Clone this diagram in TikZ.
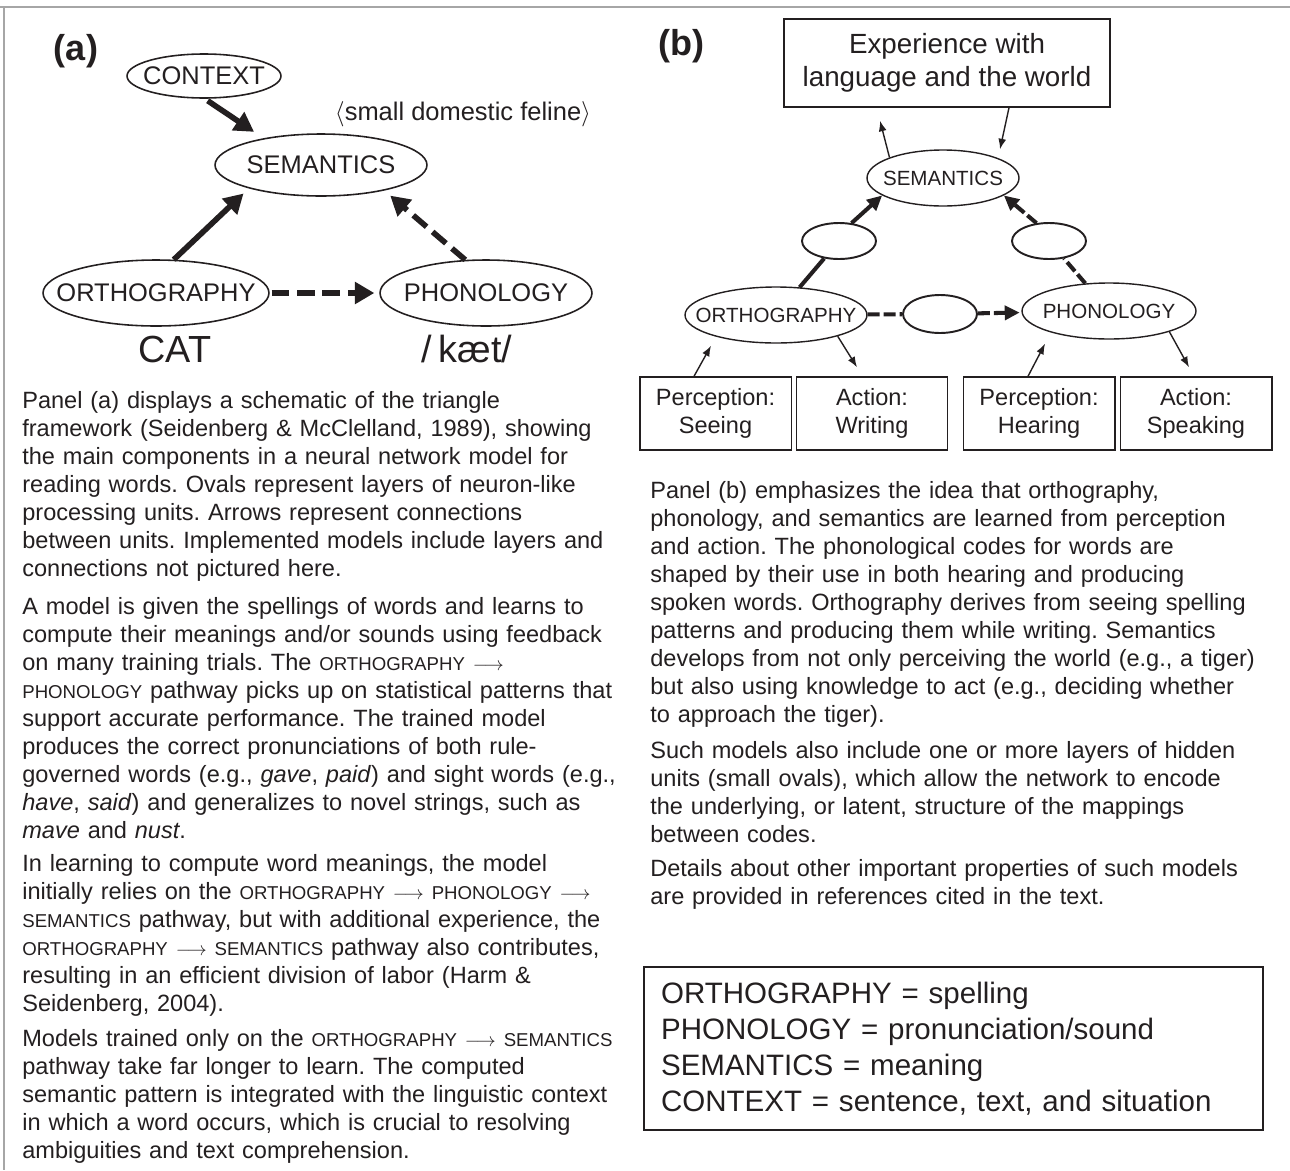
\documentclass[tikz,border=0pt]{standalone}
\usepackage{fontspec}
\setmainfont{Liberation Sans}
\usepackage{amsmath}
\usepackage{xcolor}
\usetikzlibrary{shapes.geometric, positioning, arrows.meta, calc}

\definecolor{ink}{HTML}{231F20}
\newcommand{\capsm}[1]{{\fontsize{10.6}{16}\selectfont #1}}
\newcommand{\pathto}{$\longrightarrow$}
\frenchspacing

\begin{document}
\begin{tikzpicture}[
        x=0.02cm, y=-0.02cm,
        color=ink,
        body/.style={anchor=base west, text width=12.6cm, align=left, inner sep=0pt,
            font=\fontsize{13.4}{16}\selectfont},
        lbla/.style={font=\fontsize{14.5}{17}\selectfont},
        lblb/.style={font=\fontsize{11.7}{14}\selectfont},
        ovala/.style={ellipse, draw, line width=0.9pt, inner sep=0pt, label={[lbla]center:#1}},
        ovalb/.style={ellipse, draw, line width=0.8pt, inner sep=0pt, label={[lblb]center:#1}},
        hidden/.style={ellipse, draw, line width=1.1pt, minimum width=1.48cm, minimum height=0.72cm},
        boxb/.style={draw, line width=0.85pt, minimum width=3.03cm, minimum height=1.46cm,
            align=center, font=\fontsize{13.4}{16}\selectfont},
        fata/.style={line width=3.2pt, -{Triangle[length=11pt,width=12pt]}},
        dasha/.style={dash pattern=on 10pt off 4.5pt},
        fatb/.style={line width=2.3pt},
        tipb/.style={-{Triangle[length=8.5pt,width=8pt]}},
        dashb/.style={dash pattern=on 6.8pt off 2.3pt},
        slimarr/.style={line width=0.8pt, -{Latex[length=6pt,width=4.5pt]}}
    ]
        \useasboundingbox (0,0) rectangle (1290,1170);

        % frame
        \draw[gray!70, line width=1.2pt] (0,7) -- (1290,7);
        \draw[gray!70, line width=1pt] (4,7) -- (4,1170);

        % ---- panel (a)
        \node[font=\bfseries\fontsize{20.5}{24}\selectfont] (laba) at (76,51) {(a)};

        \node[ovala=CONTEXT, minimum width=3.08cm, minimum height=0.88cm] (context) at (204,76) {};
        \node[ovala=SEMANTICS, minimum width=4.24cm, minimum height=1.24cm] (sem) at (321,165) {};
        \node[ovala=ORTHOGRAPHY, minimum width=4.52cm, minimum height=1.32cm] (orth) at (156,293) {};
        \node[ovala=PHONOLOGY, minimum width=4.24cm, minimum height=1.32cm] (phon) at (486,293) {};

        \node[anchor=base, lbla] (feline) at (463,120) {$\langle$small domestic feline$\rangle$};
        \node[anchor=base, font=\fontsize{21.5}{26}\selectfont] (cat) at (175,362) {CAT};
        \node[anchor=base, font=\fontsize{21.5}{26}\selectfont] (kaet) at (467,362) {/\,kæt/};

        \draw[fata, shorten <=2pt, shorten >=6.5pt] (context.-88) -- (sem.155);
        \draw[fata, shorten >=4.2pt] (orth.62) -- (sem.198);
        \draw[fata, dasha, shorten >=4.4pt] (phon.122) -- (sem.-22);
        \draw[fata, dasha, shorten <=1pt, shorten >=2.8pt] (orth.east) -- (phon.west);

        % ---- panel (b)
        \node[font=\bfseries\fontsize{20.5}{24}\selectfont] (labb) at (681,46) {(b)};

        \node[draw, line width=0.85pt, minimum width=6.52cm, minimum height=1.76cm, align=center,
            font=\fontsize{15.8}{18.7}\selectfont] (exp) at (947,63) {Experience with\\language and the world};

        \node[ovalb=SEMANTICS, minimum width=3.04cm, minimum height=1.12cm] (semb) at (943,178) {};
        \node[ovalb=ORTHOGRAPHY, minimum width=3.64cm, minimum height=1.12cm] (orthb) at (776,315) {};
        \node[ovalb=PHONOLOGY, minimum width=3.48cm, minimum height=1.12cm] (phonb) at (1109,311) {};
        \node[hidden] (h1) at (839,241) {};
        \node[hidden] (h2) at (1049,241) {};
        \node[hidden, minimum height=0.76cm] (h3) at (940,314) {};

        \node[boxb] (seeing) at (715.5,413.5) {Perception:\\Seeing};
        \node[boxb] (writing) at (872,413.5) {Action:\\Writing};
        \node[boxb] (hearing) at (1039,413.5) {Perception:\\Hearing};
        \node[boxb] (speaking) at (1196,413.5) {Action:\\Speaking};

        \draw[fatb] (orthb) -- (h1);
        \draw[fatb, tipb] (h1.55) -- (semb.196);
        \draw[fatb, dashb] (phonb) -- (h2);
        \draw[fatb, dashb, tipb] (h2.125) -- (semb.-16);
        \draw[fatb, dashb] (orthb) -- (h3);
        \draw[fatb, dashb, tipb, shorten >=1pt] (h3) -- (phonb);

        \draw[slimarr] (semb.159) -- ([xshift=-1.34cm, yshift=-0.26cm]exp.south);
        \draw[slimarr] ([xshift=1.24cm]exp.south) -- ([xshift=1.14cm]semb.north);
        \draw[slimarr] ([xshift=-0.43cm]seeing.north) -- ([xshift=-1.3cm, yshift=-0.04cm]orthb.south);
        \draw[slimarr] (orthb.-19) -- ([xshift=-0.3cm, yshift=0.18cm]writing.north);
        \draw[slimarr] ([xshift=-0.22cm]hearing.north) -- ([xshift=-1.28cm, yshift=-0.08cm]phonb.south);
        \draw[slimarr] (phonb.-19) -- ([xshift=-0.14cm, yshift=0.18cm]speaking.north);

        % ---- text, left column
        \node[body] (txta1) at (22,408) {Panel (a) displays a schematic of the triangle\\
            framework (Seidenberg \& McClelland, 1989), showing\\
            the main components in a neural network model for\\
            reading words. Ovals represent layers of neuron-like\\
            processing units. Arrows represent connections\\
            between units. Implemented models include layers and\\
            connections not pictured here.};
        \node[body] (txta2) at (22,614) {A model is given the spellings of words and learns to\\
            compute their meanings and/or sounds using feedback\\
            on many training trials. The \capsm{ORTHOGRAPHY \pathto}\\
            \capsm{PHONOLOGY} pathway picks up on statistical patterns that\\
            support accurate performance. The trained model\\
            produces the correct pronunciations of both rule-\\
            governed words (e.g., \textit{gave}, \textit{paid}) and sight words (e.g.,\\
            \textit{have}, \textit{said}) and generalizes to novel strings, such as\\
            \textit{mave} and \textit{nust}.};
        \node[body] (txta3) at (22,871) {In learning to compute word meanings, the model\\
            initially relies on the \capsm{ORTHOGRAPHY \pathto{} PHONOLOGY \pathto}\\
            \capsm{SEMANTICS} pathway, but with additional experience, the\\
            \capsm{ORTHOGRAPHY \pathto{} SEMANTICS} pathway also contributes,\\
            resulting in an efficient division of labor (Harm \&\\
            Seidenberg, 2004).};
        \node[body] (txta4) at (22,1046) {Models trained only on the \capsm{ORTHOGRAPHY \pathto{} SEMANTICS}\\
            pathway take far longer to learn. The computed\\
            semantic pattern is integrated with the linguistic context\\
            in which a word occurs, which is crucial to resolving\\
            ambiguities and text comprehension.};

        % ---- text, right column
        \node[body] (txtb1) at (650,498) {Panel (b) emphasizes the idea that orthography,\\
            phonology, and semantics are learned from perception\\
            and action. The phonological codes for words are\\
            shaped by their use in both hearing and producing\\
            spoken words. Orthography derives from seeing spelling\\
            patterns and producing them while writing. Semantics\\
            develops from not only perceiving the world (e.g., a tiger)\\
            but also using knowledge to act (e.g., deciding whether\\
            to approach the tiger).};
        \node[body] (txtb2) at (650,758) {Such models also include one or more layers of hidden\\
            units (small ovals), which allow the network to encode\\
            the underlying, or latent, structure of the mappings\\
            between codes.};
        \node[body] (txtb3) at (650,876) {Details about other important properties of such models\\
            are provided in references cited in the text.};

        \node[draw, line width=0.85pt, minimum width=12.38cm, minimum height=3.26cm, inner xsep=0.34cm,
            text width=11.7cm, align=left, font=\fontsize{16.8}{20.4}\selectfont] (legend) at (953.5,1048.5)
            {ORTHOGRAPHY = spelling\\
             PHONOLOGY = pronunciation/sound\\
             SEMANTICS = meaning\\
             CONTEXT = sentence, text, and situation};
    \end{tikzpicture}
\end{document}
